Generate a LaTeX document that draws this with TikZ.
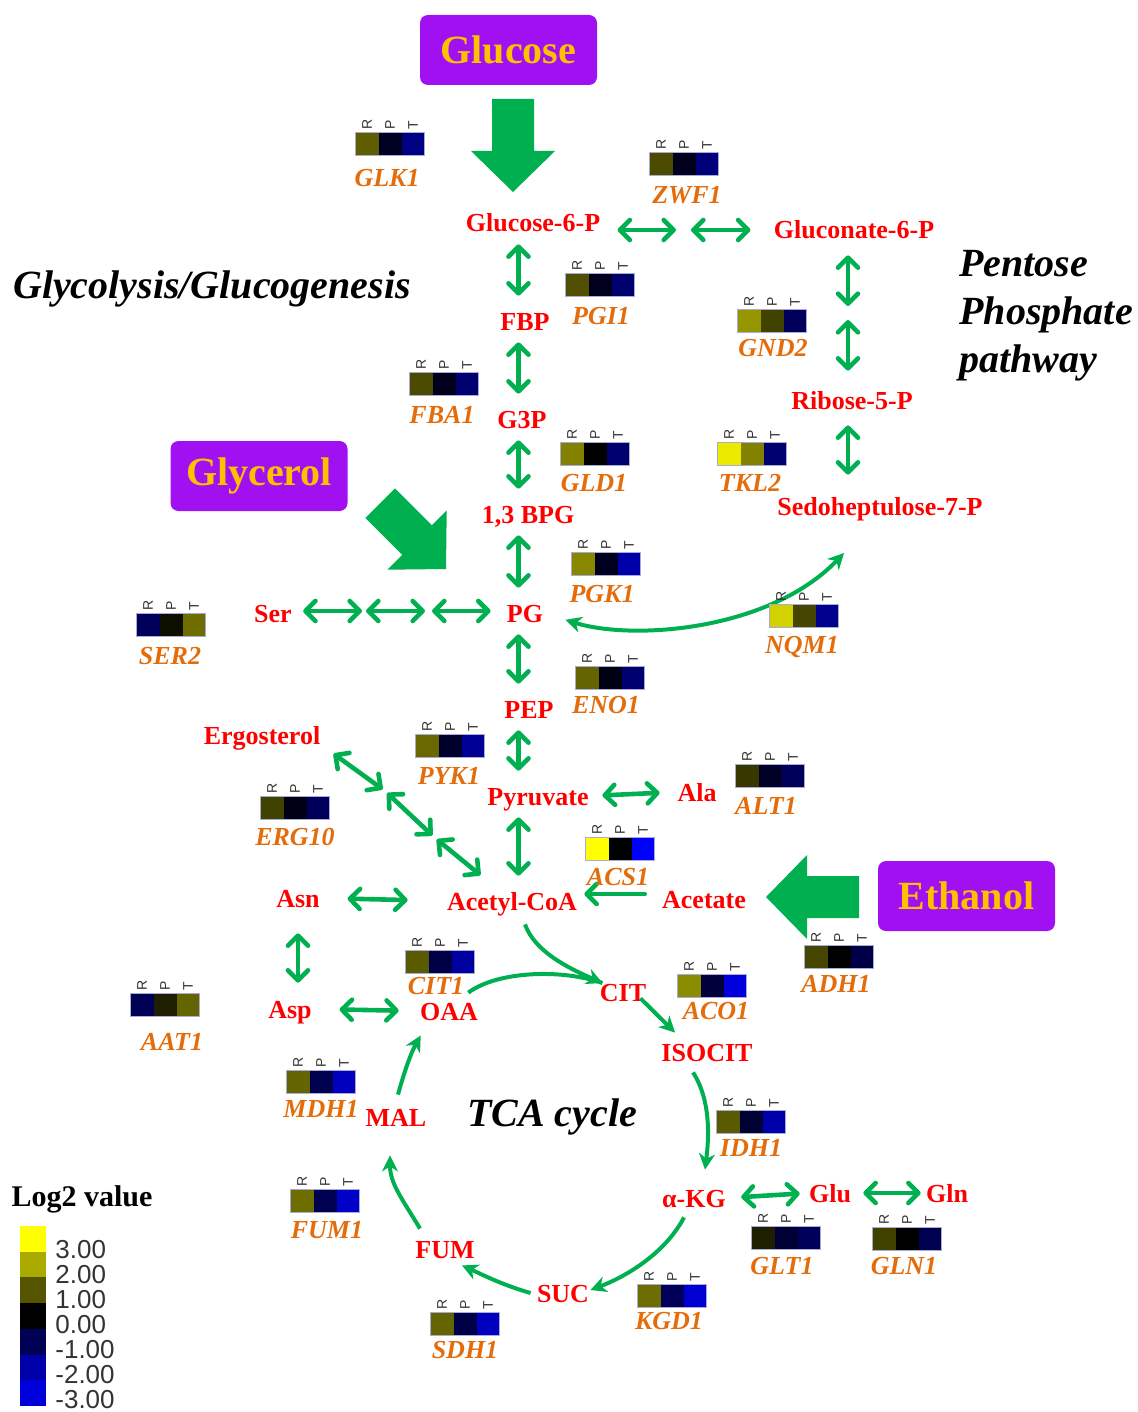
\documentclass[tikz,border=0pt]{standalone}
\usepackage{fontspec}
\setmainfont{Liberation Serif}
\setsansfont{Liberation Sans}
\usetikzlibrary{arrows.meta}

\definecolor{pathgreen}{RGB}{0,176,80}
\definecolor{metred}{RGB}{255,0,0}
\definecolor{geneorange}{RGB}{228,108,10}
\definecolor{srcpurple}{RGB}{160,16,240}
\definecolor{srcgold}{RGB}{255,192,0}
\definecolor{hmline}{RGB}{170,170,215}

\tikzset{
  metab/.style={text=metred, font=\bfseries\fontsize{13}{15}\selectfont,
    inner sep=0pt, text height=9pt, text depth=0pt},
  gene/.style={text=geneorange, font=\bfseries\itshape\fontsize{13}{15}\selectfont,
    inner sep=0pt, text height=9pt, text depth=0pt},
  source/.style={fill=srcpurple, rounded corners=4pt, minimum width=88.5pt,
    minimum height=35pt, text=srcgold, font=\bfseries\fontsize{20}{24}\selectfont},
  pathtitle/.style={font=\bfseries\itshape\fontsize{20}{24}\selectfont, inner sep=0pt},
  rpt/.style={font=\sffamily\fontsize{7}{8}\selectfont, text=black!80,
    rotate=90, anchor=west, inner sep=0pt},
  hmframe/.style={draw=hmline, line width=0.4pt},
  legnum/.style={font=\sffamily\fontsize{13}{15}\selectfont, text=black!80, inner sep=0pt},
  barb/.tip={Straight Barb[length=5pt,width=10pt,round]},
  dbl/.style={draw=pathgreen, line width=2.3pt, line cap=round, barb-barb},
  onearr/.style={draw=pathgreen, line width=2.3pt, line cap=round, -barb},
  cyc/.style={draw=pathgreen, line width=2pt, -{Stealth[length=8pt,width=8pt,inset=2.5pt]}},
  cycnohead/.style={draw=pathgreen, line width=2pt},
  cycboth/.style={draw=pathgreen, line width=2pt,
    {Stealth[length=8pt,width=8pt,inset=2.5pt]}-{Stealth[length=8pt,width=8pt,inset=2.5pt]}},
  bigarrow/.pic={
    \fill[pathgreen] (0,0) -- (-41,42) -- (-41,21) -- (-93,21) -- (-93,-21)
      -- (-41,-21) -- (-41,-42) -- cycle;
  }
}

% heat map of one gene: name, centre, R/P/T values, label position
\newcommand{\heatmap}[6]{%
  \begin{scope}[shift={(#2)}]
    \foreach \v/\l [count=\i] in {#3/R,#4/P,#5/T}{%
      \pgfmathtruncatemacro\m{abs(\v)}%
      \ifnum\v<0 \definecolor{hcell}{RGB}{0,0,\m}\else\definecolor{hcell}{RGB}{\m,\m,0}\fi
      \fill[hcell] ({(\i-2)*23-11.5},-11.5) rectangle +(23,23);
      \node[rpt] (#1\l) at ({(\i-2)*23},-14) {\l};
    }
    \draw[hmframe] (-34.5,-11.5) rectangle (34.5,11.5);
  \end{scope}
  \node[gene] (#1) at (#6) {#1};
}

\begin{document}
\begin{tikzpicture}[x=0.5pt,y=-0.5pt]
  \useasboundingbox (0,0) rectangle (1137,1412);

  % carbon sources
  \node[source] (glucose) at (508.5,50) {Glucose};
  \node[source] (glycerol) at (259,476) {Glycerol};
  \node[source] (ethanol) at (966.5,896) {Ethanol};
  \pic[rotate=-90] (glcarr) at (513,192) {bigarrow};
  \pic[rotate=-45] (glyarr) at (446,569) {bigarrow};
  \pic[rotate=180] (etharr) at (766,897) {bigarrow};

  % titles
  \node[pathtitle, anchor=base] (glyco) at (212,298) {Glycolysis/Glucogenesis};
  \node[pathtitle, anchor=base west] (ppp1) at (959,276) {Pentose};
  \node[pathtitle, anchor=base west] (ppp2) at (959,324) {Phosphate};
  \node[pathtitle, anchor=base west] (ppp3) at (959,372) {pathway};
  \node[pathtitle, anchor=base] (tca) at (552,1126) {TCA cycle};

  % metabolites
  \node[metab] (G6P) at (533,223) {Glucose-6-P};
  \node[metab] (Gn6P) at (854,230) {Gluconate-6-P};
  \node[metab] (FBP) at (525,321) {FBP};
  \node[metab] (G3P) at (522,419) {G3P};
  \node[metab] (BPG) at (528,514) {1,3 BPG};
  \node[metab] (PG) at (525,613) {PG};
  \node[metab] (PEP) at (529,709) {PEP};
  \node[metab] (Pyr) at (538,796) {Pyruvate};
  \node[metab] (Ala) at (697,792) {Ala};
  \node[metab] (Erg) at (262,735) {Ergosterol};
  \node[metab] (AcCoA) at (512,901) {Acetyl-CoA};
  \node[metab] (Acet) at (704,899) {Acetate};
  \node[metab] (Asn) at (298,898) {Asn};
  \node[metab] (Asp) at (290,1009) {Asp};
  \node[metab] (OAA) at (449,1011) {OAA};
  \node[metab] (CIT) at (623,992) {CIT};
  \node[metab] (ISO) at (707,1052) {ISOCIT};
  \node[metab] (aKG) at (694,1198) {α-KG};
  \node[metab] (Glu) at (830,1193) {Glu};
  \node[metab] (Gln) at (947,1193) {Gln};
  \node[metab] (SUC) at (563,1293) {SUC};
  \node[metab] (FUM) at (445,1249) {FUM};
  \node[metab] (MAL) at (396,1117) {MAL};
  \node[metab] (R5P) at (852,400) {Ribose-5-P};
  \node[metab] (S7P) at (880,506) {Sedoheptulose-7-P};
  \node[metab] (Ser) at (273,613) {Ser};

  % glycolysis column
  \coordinate (col) at (518.5,0);
  \foreach \a/\b in {G6P/FBP,FBP/G3P,G3P/BPG,BPG/PG,PG/PEP,PEP/Pyr,Pyr/AcCoA}
    \draw[dbl, shorten <=6pt, shorten >=8pt] (\a.south -| col) -- (\b.north -| col);

  % pentose phosphate branch
  \coordinate (zmid) at (683.5,230);
  \draw[dbl, shorten <=8.5pt, shorten >=3.75pt] (G6P.east |- zmid) -- (zmid);
  \draw[dbl, shorten <=3.75pt, shorten >=11.5pt] (zmid) -- (Gn6P.west |- zmid);
  \coordinate (pcol) at (848,0);
  \coordinate (pmid) at (848,313);
  \draw[dbl, shorten <=8pt, shorten >=3.5pt] (Gn6P.south -| pcol) -- (pmid);
  \draw[dbl, shorten <=3.5pt, shorten >=10pt] (pmid) -- (R5P.north -| pcol);
  \draw[dbl, shorten <=8pt, shorten >=11pt] (R5P.south -| pcol) -- (S7P.north -| pcol);
  \draw[cycboth, shorten <=11.5pt, shorten >=26pt]
    (PG.east) .. controls +(90,28) and +(-110,115) .. (S7P.south);

  % side branches
  \coordinate (sA) at (364,611);
  \coordinate (sB) at (428.5,611);
  \draw[dbl, shorten <=5.5pt, shorten >=1pt] (Ser.east |- sA) -- (sA);
  \draw[dbl, shorten <=1pt, shorten >=1.75pt] (sA) -- (sB);
  \draw[dbl, shorten <=1.75pt, shorten >=8pt] (sB) -- (PG.west |- sB);
  \coordinate (eA) at (385,791);
  \coordinate (eB) at (434.5,837.5);
  \draw[dbl, shorten <=8pt, shorten >=1.5pt] (Erg.south east) -- (eA);
  \draw[dbl, shorten <=1.5pt, shorten >=1.5pt] (eA) -- (eB);
  \draw[dbl, shorten <=1.5pt, shorten >=13pt] (eB) -- (AcCoA);
  \draw[dbl, shorten <=6.75pt, shorten >=8.75pt] (Pyr.east) -- (Ala.west);
  \draw[dbl, shorten <=13.75pt, shorten >=19.5pt] (Asn.east) -- (AcCoA.west);
  \draw[dbl, shorten <=13pt, shorten >=8.5pt] (Asn.south) -- (Asn.south |- Asp.north);
  \draw[dbl, shorten <=13.75pt, shorten >=10.5pt] (Asp.east) -- (OAA.west);
  \draw[dbl, shorten <=7.5pt, shorten >=4.5pt] (aKG.east) -- (Glu.west);
  \draw[dbl, shorten <=6pt, shorten >=2.5pt] (Glu.east) -- (Gln.west);
  \draw[onearr, shorten <=8.5pt, shorten >=3.5pt]
    ([yshift=2.5pt]Acet.west) -- ([yshift=3.5pt]AcCoA.east);

  % TCA cycle
  \draw[cyc] ([xshift=6.5pt,yshift=-7pt]AcCoA.south) .. controls +(10,28) and +(-32,-14)
    .. ([xshift=1.5pt,yshift=4.5pt]CIT.west);
  \draw[cycnohead] ([xshift=-5pt,yshift=4.5pt]OAA.north east) .. controls +(30,-22) and +(-40,-14)
    .. ([xshift=1.5pt,yshift=4.5pt]CIT.west);
  \draw[cyc] ([xshift=-3pt,yshift=1.5pt]CIT.south east) -- ([xshift=7pt,yshift=5pt]ISO.north west);
  \draw[cyc] ([xshift=-7pt,yshift=-5.5pt]ISO.south) .. controls +(18,28) and +(4,-32)
    .. ([xshift=5.5pt,yshift=9.5pt]aKG.north);
  \draw[cyc] ([xshift=-5pt,yshift=-5pt]aKG.south) .. controls +(-20,38) and +(32,-12)
    .. ([xshift=0.5pt,yshift=1.5pt]SUC.east);
  \draw[cyc] ([xshift=-3pt]SUC.west) .. controls +(-28,-8) and +(22,10)
    .. ([xshift=8.5pt,yshift=-3.5pt]FUM.south);
  \draw[cyc] ([xshift=2.5pt,yshift=5.5pt]FUM.north west) .. controls +(-18,-30) and +(0,28)
    .. ([xshift=-3pt,yshift=-14.5pt]MAL.south);
  \draw[cyc] ([xshift=1pt,yshift=6.5pt]MAL.north) .. controls +(6,-22) and +(-10,18)
    .. ([xshift=0.5pt,yshift=-7.5pt]OAA.south west);

  % gene heat maps
  \heatmap{GLK1}{390,144}{94}{-35}{-130}{387,178}
  \heatmap{ZWF1}{684,164}{75}{-30}{-120}{687,195}
  \heatmap{PGI1}{600,285}{80}{-30}{-110}{601,315}
  \heatmap{GND2}{772,321}{150}{65}{-90}{773,347}
  \heatmap{FBA1}{444,384}{75}{-30}{-110}{442,414}
  \heatmap{GLD1}{595,454}{130}{0}{-110}{594,482}
  \heatmap{TKL2}{752,454}{235}{130}{-110}{750,482}
  \heatmap{PGK1}{606,564}{135}{-30}{-170}{602,593}
  \heatmap{NQM1}{804,616}{210}{70}{-140}{802,644}
  \heatmap{SER2}{171,625}{-90}{15}{110}{170,655}
  \heatmap{ENO1}{610,678}{100}{-20}{-110}{606,704}
  \heatmap{PYK1}{450,746}{105}{-45}{-150}{449,775}
  \heatmap{ERG10}{295,808}{65}{-20}{-90}{295,836}
  \heatmap{ALT1}{770,776}{55}{-40}{-90}{766,805}
  \heatmap{ACS1}{620,849}{255}{0}{-255}{618,876}
  \heatmap{ADH1}{839,957}{70}{0}{-70}{836,983}
  \heatmap{CIT1}{440,962}{90}{-70}{-160}{436,985}
  \heatmap{ACO1}{712,986}{140}{-60}{-220}{716,1010}
  \heatmap{AAT1}{165,1005}{-85}{30}{100}{172,1041}
  \heatmap{MDH1}{321,1082}{100}{-80}{-190}{321,1108}
  \heatmap{IDH1}{751,1122}{90}{-50}{-170}{751,1147}
  \heatmap{FUM1}{325,1201}{110}{-80}{-200}{327,1229}
  \heatmap{GLT1}{786,1238}{30}{-55}{-90}{782,1265}
  \heatmap{GLN1}{907,1239}{65}{0}{-80}{904,1265}
  \heatmap{KGD1}{672,1296}{110}{-90}{-210}{669,1320}
  \heatmap{SDH1}{465,1324}{100}{-70}{-190}{465,1349}

  % legend
  \node[font=\bfseries\fontsize{15}{18}\selectfont, inner sep=0pt, anchor=base] (legtitle)
    at (82,1206) {Log2 value};
  \foreach \v/\t [count=\i from 0] in {255/3.00,170/2.00,85/1.00,0/0.00,-85/-1.00,-170/-2.00,-220/-3.00}{%
    \pgfmathtruncatemacro\m{abs(\v)}%
    \ifnum\v<0 \definecolor{hcell}{RGB}{0,0,\m}\else\definecolor{hcell}{RGB}{\m,\m,0}\fi
    \fill[hcell] (20,{1226+25.7*\i}) rectangle +(25.5,25.7);
    \node[legnum, anchor=base west] (leg\i) at (55,{1258+25*\i}) {\t};
  }
\end{tikzpicture}
\end{document}
